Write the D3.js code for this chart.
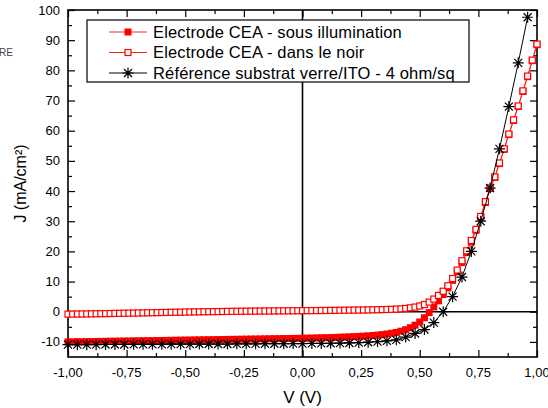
<!DOCTYPE html>
<html>

<head>
    <meta charset="utf-8">
    <title>J(V) electrodes</title>
    <style>
        body { margin: 0; background: #fff; }
        svg { display: block; font-family: "Liberation Sans", Arial, sans-serif; }
    </style>
</head>

<body>
    <script src='https://d3js.org/d3.v7.min.js'></script>
    <script>
    // sweep voltages (V) for the two CEA electrode series, step 0.02 V
    var vCEA = [-1.00, -0.98, -0.96, -0.94, -0.92, -0.90, -0.88, -0.86, -0.84, -0.82,
        -0.80, -0.78, -0.76, -0.74, -0.72, -0.70, -0.68, -0.66, -0.64, -0.62,
        -0.60, -0.58, -0.56, -0.54, -0.52, -0.50, -0.48, -0.46, -0.44, -0.42,
        -0.40, -0.38, -0.36, -0.34, -0.32, -0.30, -0.28, -0.26, -0.24, -0.22,
        -0.20, -0.18, -0.16, -0.14, -0.12, -0.10, -0.08, -0.06, -0.04, -0.02,
        0.00, 0.02, 0.04, 0.06, 0.08, 0.10, 0.12, 0.14, 0.16, 0.18,
        0.20, 0.22, 0.24, 0.26, 0.28, 0.30, 0.32, 0.34, 0.36, 0.38,
        0.40, 0.42, 0.44, 0.46, 0.48, 0.50, 0.52, 0.54, 0.56, 0.58,
        0.60, 0.62, 0.64, 0.66, 0.68, 0.70, 0.72, 0.74, 0.76, 0.78,
        0.80, 0.82, 0.84, 0.86, 0.88, 0.90, 0.92, 0.94, 0.96, 0.98, 1.00];

    // J (mA/cm2) - Electrode CEA sous illumination
    var jIllum = [-10.00, -9.98, -9.95, -9.93, -9.90, -9.88, -9.86, -9.83, -9.81, -9.78,
        -9.76, -9.74, -9.71, -9.69, -9.66, -9.64, -9.62, -9.59, -9.57, -9.54,
        -9.52, -9.50, -9.47, -9.45, -9.42, -9.40, -9.38, -9.35, -9.33, -9.30,
        -9.28, -9.26, -9.23, -9.21, -9.18, -9.16, -9.14, -9.11, -9.09, -9.06,
        -9.04, -9.02, -8.99, -8.97, -8.94, -8.92, -8.90, -8.87, -8.85, -8.82,
        -8.80, -8.76, -8.72, -8.68, -8.64, -8.60, -8.55, -8.50, -8.45, -8.39,
        -8.33, -8.26, -8.18, -8.10, -8.00, -7.88, -7.74, -7.58, -7.38, -7.14,
        -6.85, -6.45, -5.95, -5.30, -4.45, -3.40, -2.00, -0.30, 1.60, 3.60,
        5.70, 7.90, 10.4, 13.2, 16.3, 19.6, 23.1, 27.0, 31.3, 36.2,
        40.8, 44.5, 49.1, 53.8, 58.7, 63.4, 68.0, 73.0, 77.9, 83.2, 88.5];

    // J (mA/cm2) - Electrode CEA dans le noir
    var jDark = [-0.80, -0.78, -0.76, -0.74, -0.72, -0.70, -0.67, -0.64, -0.62, -0.59,
        -0.56, -0.53, -0.50, -0.47, -0.44, -0.41, -0.38, -0.35, -0.32, -0.29,
        -0.26, -0.23, -0.20, -0.17, -0.14, -0.11, -0.08, -0.05, -0.03, 0.00,
        0.02, 0.04, 0.06, 0.08, 0.10, 0.12, 0.14, 0.16, 0.18, 0.19,
        0.21, 0.22, 0.24, 0.25, 0.27, 0.28, 0.29, 0.31, 0.32, 0.33,
        0.35, 0.36, 0.38, 0.39, 0.41, 0.42, 0.44, 0.46, 0.48, 0.50,
        0.52, 0.54, 0.56, 0.58, 0.61, 0.64, 0.67, 0.71, 0.75, 0.80,
        0.86, 0.95, 1.10, 1.30, 1.55, 1.90, 2.40, 3.20, 4.20, 5.40,
        6.80, 8.60, 11.0, 13.8, 16.9, 20.2, 23.6, 27.3, 31.6, 36.5,
        41.0, 44.7, 49.3, 54.0, 58.9, 63.6, 68.2, 73.2, 78.1, 83.4, 88.7];

    // reference ITO substrate, step 0.04 V
    var vRef = [-1.00, -0.96, -0.92, -0.88, -0.84, -0.80, -0.76, -0.72, -0.68, -0.64,
        -0.60, -0.56, -0.52, -0.48, -0.44, -0.40, -0.36, -0.32, -0.28, -0.24,
        -0.20, -0.16, -0.12, -0.08, -0.04, 0.00, 0.04, 0.08, 0.12, 0.16,
        0.20, 0.24, 0.28, 0.32, 0.36, 0.40, 0.44, 0.48, 0.52, 0.56,
        0.60, 0.64, 0.68, 0.72, 0.76, 0.80, 0.84, 0.88, 0.92, 0.96];
    var jRef = [-10.9, -10.9, -10.9, -10.9, -10.85, -10.85, -10.85, -10.8, -10.8, -10.8,
        -10.8, -10.75, -10.75, -10.75, -10.7, -10.7, -10.7, -10.7, -10.65, -10.65,
        -10.65, -10.6, -10.6, -10.6, -10.55, -10.55, -10.5, -10.5, -10.45, -10.4,
        -10.35, -10.25, -10.1, -9.9, -9.65, -9.3, -8.4, -7.2, -5.9, -3.6,
        0.0, 5.0, 11.5, 20.0, 30.0, 41.0, 54.0, 68.0, 82.5, 97.6];

    var seriesNames = ["Electrode CEA - sous illumination", "Electrode CEA - dans le noir",
        "Référence substrat verre/ITO - 4 ohm/sq"];
    var xTicks = [-1, -0.75, -0.5, -0.25, 0, 0.25, 0.5, 0.75, 1];
    var yTicks = [-10, 0, 10, 20, 30, 40, 50, 60, 70, 80, 90, 100];

    const W = 548, H = 408;
    const pLeft = 68, pRight = 537, pTop = 10, pBottom = 357;

    var x = d3.scaleLinear().domain([-1, 1]).range([pLeft, pRight]);
    var y = d3.scaleLinear().domain([-15, 100]).range([pBottom, pTop]);

    var svg = d3.select("body").append("svg")
        .attr("width", W)
        .attr("height", H);

    var fmt = function(d) { return d3.format(".2f")(d).replace(".", ",").replace("−", "-"); };

    // small leftover text at the left edge
    svg.append("text").attr("x", -1).attr("y", 56)
        .style("font-size", "10px").attr("fill", "#444").text("RE");

    // zero lines
    svg.append("line").attr("x1", pLeft).attr("x2", pRight)
        .attr("y1", y(0)).attr("y2", y(0))
        .attr("stroke", "#000").attr("stroke-width", 1.6);
    svg.append("line").attr("x1", x(0)).attr("x2", x(0))
        .attr("y1", pTop).attr("y2", pBottom)
        .attr("stroke", "#000").attr("stroke-width", 1.6);

    // axes, ticks inside, on all four sides
    var xMinor = d3.range(-1, 1.0001, 0.125).filter(function(d) { return Math.abs(d * 4 - Math.round(d * 4)) > 1e-6; });
    var yMinor = d3.range(-5, 100, 10);

    svg.append("g").attr("transform", "translate(0," + pBottom + ")")
        .call(d3.axisTop(x).tickValues(xTicks).tickSize(7).tickFormat(""));
    svg.append("g").attr("transform", "translate(0," + pBottom + ")")
        .call(d3.axisTop(x).tickValues(xMinor).tickSize(4).tickFormat(""));
    svg.append("g").attr("transform", "translate(0," + pTop + ")")
        .call(d3.axisBottom(x).tickValues(xTicks).tickSize(7).tickFormat(""));
    svg.append("g").attr("transform", "translate(0," + pTop + ")")
        .call(d3.axisBottom(x).tickValues(xMinor).tickSize(4).tickFormat(""));
    svg.append("g").attr("transform", "translate(" + pLeft + ",0)")
        .call(d3.axisRight(y).tickValues(yTicks).tickSize(7).tickFormat(""));
    svg.append("g").attr("transform", "translate(" + pLeft + ",0)")
        .call(d3.axisRight(y).tickValues(yMinor).tickSize(4).tickFormat(""));
    svg.append("g").attr("transform", "translate(" + pRight + ",0)")
        .call(d3.axisLeft(y).tickValues(yTicks).tickSize(7).tickFormat(""));
    svg.append("g").attr("transform", "translate(" + pRight + ",0)")
        .call(d3.axisLeft(y).tickValues(yMinor).tickSize(4).tickFormat(""));
    svg.selectAll(".domain").remove();
    svg.selectAll(".tick line").attr("stroke", "#000").attr("stroke-width", 1.2);

    svg.append("rect").attr("x", pLeft).attr("y", pTop)
        .attr("width", pRight - pLeft).attr("height", pBottom - pTop)
        .attr("fill", "none").attr("stroke", "#000").attr("stroke-width", 1.6);

    // tick labels
    svg.selectAll(".xlab").data(xTicks).enter().append("text")
        .attr("x", function(d) { return x(d); })
        .attr("y", 377)
        .attr("text-anchor", "middle")
        .style("font-size", "13px")
        .text(fmt);
    svg.selectAll(".ylab").data(yTicks).enter().append("text")
        .attr("x", 60)
        .attr("y", function(d) { return y(d); })
        .attr("dy", "0.35em")
        .attr("text-anchor", "end")
        .style("font-size", "13px")
        .text(function(d) { return d; });

    // axis titles
    svg.append("text").attr("x", x(0)).attr("y", 403)
        .attr("text-anchor", "middle").style("font-size", "17px").text("V (V)");
    svg.append("text")
        .attr("transform", "translate(26," + ((pTop + pBottom) / 2) + ") rotate(-90)")
        .attr("text-anchor", "middle").style("font-size", "16px").text("J (mA/cm²)");

    var line = d3.line().x(function(d) { return x(d[0]); }).y(function(d) { return y(d[1]); });
    var illum = vCEA.map(function(v, i) { return [v, jIllum[i]]; });
    var dark = vCEA.map(function(v, i) { return [v, jDark[i]]; });
    var ref = vRef.map(function(v, i) { return [v, jRef[i]]; });

    var sq = 7;
    function star(g, cx, cy) {
        var r = 5.5, rd = 4;
        g.append("path")
            .attr("d", "M" + (cx - r) + "," + cy + "H" + (cx + r) +
                "M" + cx + "," + (cy - r) + "V" + (cy + r) +
                "M" + (cx - rd) + "," + (cy - rd) + "L" + (cx + rd) + "," + (cy + rd) +
                "M" + (cx - rd) + "," + (cy + rd) + "L" + (cx + rd) + "," + (cy - rd))
            .attr("stroke", "#000").attr("stroke-width", 1.2).attr("fill", "none");
    }

    // series 1 : filled squares
    svg.append("path").datum(illum).attr("d", line)
        .attr("fill", "none").attr("stroke", "#ff2020").attr("stroke-width", 1);
    svg.selectAll(".fsq").data(illum).enter().append("rect")
        .attr("x", function(d) { return x(d[0]) - sq / 2; })
        .attr("y", function(d) { return y(d[1]) - sq / 2; })
        .attr("width", sq).attr("height", sq)
        .attr("fill", "#ff0000");

    // series 2 : open squares
    svg.append("path").datum(dark).attr("d", line)
        .attr("fill", "none").attr("stroke", "#ff2020").attr("stroke-width", 1);
    svg.selectAll(".osq").data(dark).enter().append("rect")
        .attr("x", function(d) { return x(d[0]) - (sq - 1) / 2; })
        .attr("y", function(d) { return y(d[1]) - (sq - 1) / 2; })
        .attr("width", sq - 1).attr("height", sq - 1)
        .attr("fill", "#fff").attr("stroke", "#ff0000").attr("stroke-width", 1.2);

    // series 3 : stars
    svg.append("path").datum(ref).attr("d", line)
        .attr("fill", "none").attr("stroke", "#000").attr("stroke-width", 1);
    var sg = svg.append("g");
    ref.forEach(function(d) { star(sg, x(d[0]), y(d[1])); });

    // legend
    var lg = svg.append("g");
    lg.append("rect").attr("x", 87).attr("y", 20).attr("width", 382).attr("height", 62)
        .attr("fill", "#fff").attr("stroke", "#000").attr("stroke-width", 1.2);
    var rows = [32, 52.5, 73];
    rows.forEach(function(ry, i) {
        lg.append("line").attr("x1", 109).attr("x2", 147).attr("y1", ry).attr("y2", ry)
            .attr("stroke", i < 2 ? "#ff2020" : "#000").attr("stroke-width", 1);
        if (i == 0) {
            lg.append("rect").attr("x", 128 - sq / 2).attr("y", ry - sq / 2)
                .attr("width", sq).attr("height", sq).attr("fill", "#ff0000");
        } else if (i == 1) {
            lg.append("rect").attr("x", 128 - (sq - 1) / 2).attr("y", ry - (sq - 1) / 2)
                .attr("width", sq - 1).attr("height", sq - 1)
                .attr("fill", "#fff").attr("stroke", "#ff0000").attr("stroke-width", 1.2);
        } else {
            star(lg, 128, ry);
        }
        lg.append("text").attr("x", 153).attr("y", ry).attr("dy", "0.35em")
            .style("font-size", "16.5px").style("letter-spacing", "0.15px")
            .text(seriesNames[i]);
    });
    </script>
</body>

</html>
